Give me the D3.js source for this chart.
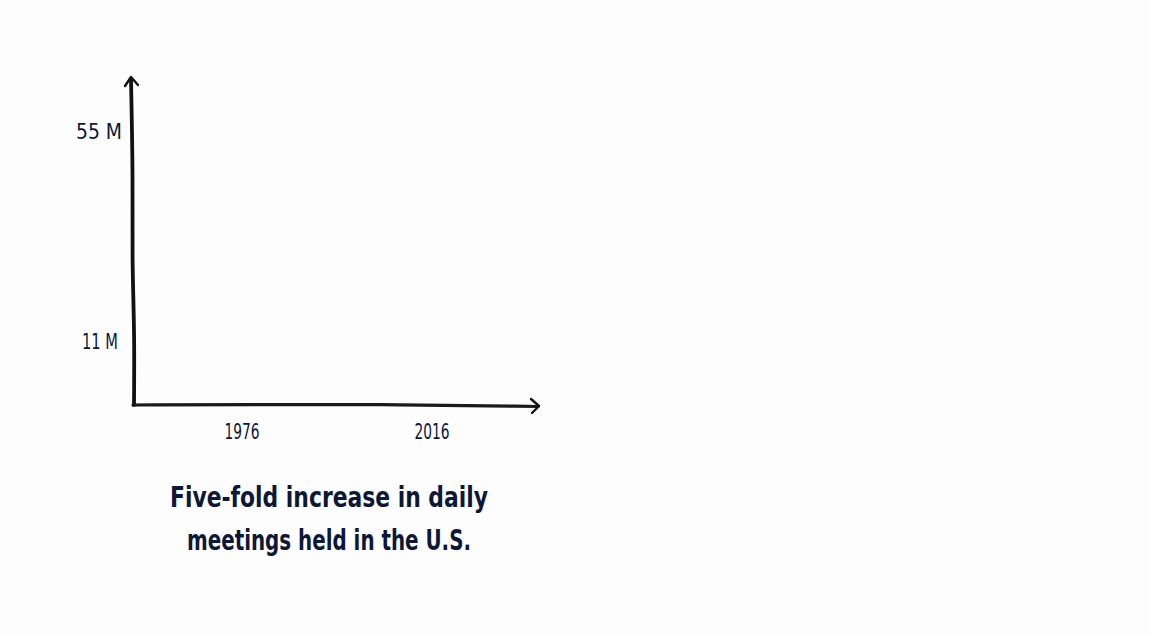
<!DOCTYPE html>
<html>
<head>
<meta charset="utf-8">
<script src="https://cdn.jsdelivr.net/npm/d3@7"></script>
<style>
  body { margin: 0; background: #fdfdfd; }
  text { fill: #0c1836; font-family: "Liberation Sans Narrow", "DejaVu Sans Condensed", "Roboto", sans-serif; }
</style>
</head>
<body>
<script>
// meetings per day in the U.S. (millions)
var years = ["1976", "2016"];
var meetings = [11, 55];
var tickLabels = ["11 M", "55 M"];
var caption = ["Five-fold increase in daily", "meetings held in the U.S."];

var width = 1150, height = 636;
var baseY = 405, leftX = 133;

var svg = d3.select("body").append("svg")
  .attr("width", width)
  .attr("height", height);

var x = d3.scaleBand()
  .domain(years)
  .range([147, 527]);

var y = d3.scaleLinear()
  .domain([0, 55])
  .range([393.5, 131]);

// hand drawn looking axes
var line = d3.line().curve(d3.curveBasis);

svg.append("path")
  .attr("d", line([[134, baseY], [134.5, 330], [132, 260], [133, 180], [131, 79]]))
  .attr("fill", "none").attr("stroke", "#111").attr("stroke-width", 3.8)
  .attr("stroke-linecap", "round");
svg.append("path")
  .attr("d", "M125,86 L131,77 L138,85")
  .attr("fill", "none").attr("stroke", "#111").attr("stroke-width", 2.4)
  .attr("stroke-linecap", "round").attr("stroke-linejoin", "round");

svg.append("path")
  .attr("d", line([[leftX, baseY], [260, 404.5], [400, 404.5], [538, 406.5]]))
  .attr("fill", "none").attr("stroke", "#1a1a1a").attr("stroke-width", 3.2)
  .attr("stroke-linecap", "round");
svg.append("path")
  .attr("d", "M531,399 L539,406 L532,413")
  .attr("fill", "none").attr("stroke", "#111").attr("stroke-width", 2.4)
  .attr("stroke-linecap", "round").attr("stroke-linejoin", "round");

// y labels at the values
svg.selectAll(".ylab")
  .data(meetings)
  .enter().append("text")
  .attr("class", "ylab")
  .attr("x", function(d, i) { return i == 0 ? 118 : 122; })
  .attr("y", function(d) { return y(d); })
  .attr("dy", "0.35em")
  .attr("text-anchor", "end")
  .attr("textLength", function(d, i) { return i == 0 ? 36 : 46; })
  .attr("lengthAdjust", "spacingAndGlyphs")
  .style("font-size", "22px")
  .text(function(d, i) { return tickLabels[i]; });

// x labels
svg.selectAll(".xlab")
  .data(years)
  .enter().append("text")
  .attr("class", "xlab")
  .attr("x", function(d) { return x(d) + x.bandwidth() / 2; })
  .attr("y", 432)
  .attr("dy", "0.35em")
  .attr("text-anchor", "middle")
  .attr("textLength", 35)
  .attr("lengthAdjust", "spacingAndGlyphs")
  .style("font-size", "21px")
  .text(function(d) { return d; });

svg.selectAll(".cap")
  .data(caption)
  .enter().append("text")
  .attr("class", "cap")
  .attr("x", 329)
  .attr("y", function(d, i) { return 507 + i * 43; })
  .attr("text-anchor", "middle")
  .attr("textLength", function(d, i) { return i == 0 ? 318 : 284; })
  .attr("lengthAdjust", "spacingAndGlyphs")
  .style("font-size", "29px")
  .style("font-weight", "600")
  .text(function(d) { return d; });
</script>
</body>
</html>
